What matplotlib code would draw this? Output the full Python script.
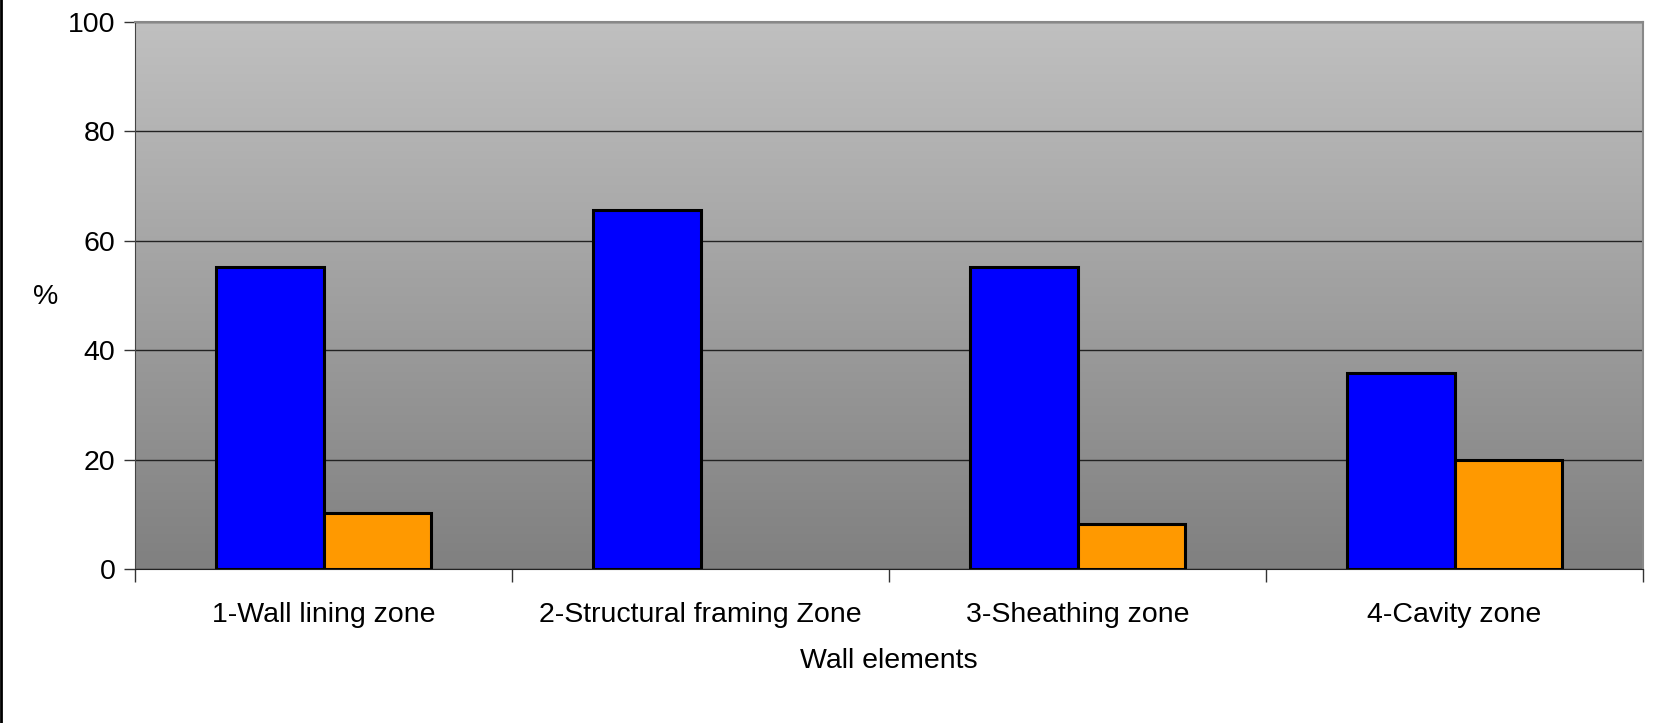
import numpy as np
import matplotlib.pyplot as plt
from matplotlib.lines import Line2D
from matplotlib.colors import LinearSegmentedColormap

plt.rcParams['font.family'] = ['Liberation Sans', 'DejaVu Sans']

categories = ['1-Wall lining zone', '2-Structural framing Zone', '3-Sheathing zone', '4-Cavity zone']
blue_vals = [55.2, 65.6, 55.2, 35.8]
orange_vals = [10.3, 0, 8.2, 20.0]
yticks = [0, 20, 40, 60, 80, 100]

fig = plt.figure(figsize=(16.63, 7.23), dpi=100)
ax = fig.add_axes([135/1663, 1 - 569/723, (1643-135)/1663, (569-22)/723])

# grey gradient background
grad = np.linspace(0, 1, 256).reshape(-1, 1)
cmap = LinearSegmentedColormap.from_list('g', ['#808080', '#c0c0c0'])
ax.imshow(grad, cmap=cmap, extent=[-0.5, 3.5, 0, 100], origin='lower', aspect='auto', zorder=0)

x = np.arange(len(categories))
w = 1 / 3.5
lw_b = [2.2 if v > 0 else 0 for v in blue_vals]
lw_o = [2.2 if v > 0 else 0 for v in orange_vals]
ax.bar(x - w/2, blue_vals, w, color='#0000ff', edgecolor='black', linewidth=lw_b, zorder=3)
ax.bar(x + w/2, orange_vals, w, color='#ff9900', edgecolor='black', linewidth=lw_o, zorder=3)

ax.set_xlim(-0.5, 3.5)
ax.set_ylim(0, 100)
ax.set_yticks(yticks)
ax.yaxis.grid(True, color='#222222', linewidth=1.0, zorder=1)
ax.set_axisbelow(False)

fs = 20.5
ax.set_xticks(x)
ax.set_xticklabels(categories, fontsize=fs)
ax.tick_params(axis='x', which='major', length=0, pad=24)
ax.set_xticks(np.arange(-0.5, 4, 1), minor=True)
ax.tick_params(axis='x', which='minor', length=9, width=1, color='#333333', direction='out')
ax.tick_params(axis='y', labelsize=fs, length=8, width=1, color='#333333', pad=6)

for s in ['top', 'right']:
    ax.spines[s].set_color('#888888')
    ax.spines[s].set_linewidth(1.5)
ax.spines['left'].set_color('#444444')
ax.spines['bottom'].set_color('#222222')
for sp in ax.spines.values():
    sp.set_zorder(4)

ax.set_ylabel('%', fontsize=fs, rotation=0, va='center', ha='center')
ax.yaxis.set_label_coords(-(135-46)/(1643-135), (569-297)/(569-22))
ax.set_xlabel('Wall elements', fontsize=fs, labelpad=14)

# left border of the chart frame
fig.add_artist(Line2D([1/1663, 1/1663], [0, 1], color='black', linewidth=2, transform=fig.transFigure))

fig.savefig('out.png', dpi=100)
